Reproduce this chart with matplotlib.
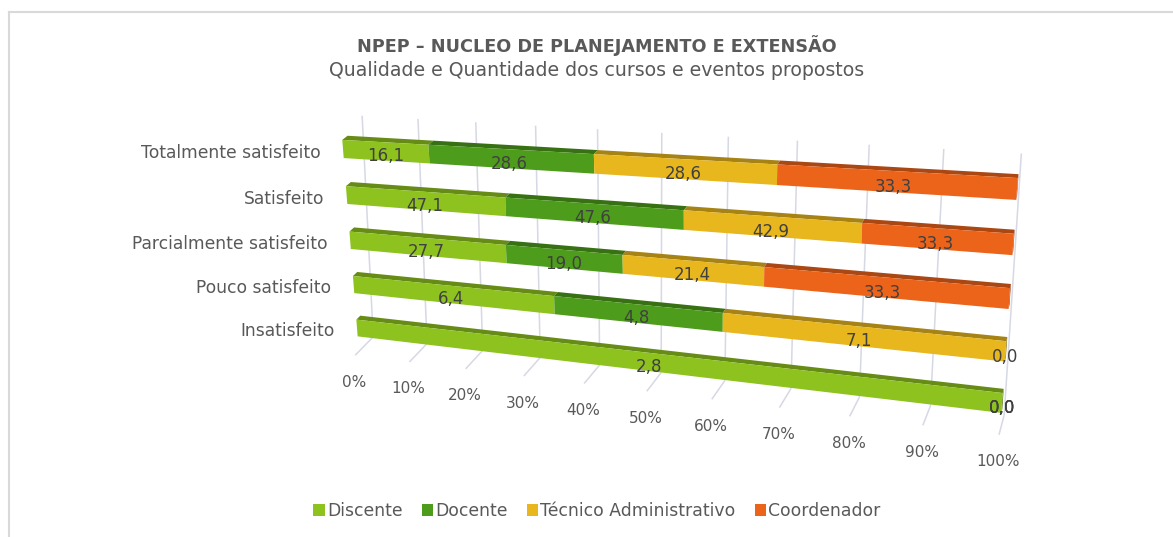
import numpy as np
import matplotlib
matplotlib.use("Agg")
import matplotlib.pyplot as plt
from matplotlib.transforms import Transform
from matplotlib.patches import Patch
from matplotlib.lines import Line2D
from matplotlib.colors import to_rgb

# ---------------- data ----------------
categories = ["Totalmente satisfeito", "Satisfeito", "Parcialmente satisfeito",
              "Pouco satisfeito", "Insatisfeito"]
series_names = ["Discente", "Docente", "Técnico Administrativo", "Coordenador"]
discente = [16.1, 47.1, 27.7, 6.4, 2.8]
docente = [28.6, 47.6, 19.0, 4.8, 0.0]
tecnico = [28.6, 42.9, 21.4, 7.1, 0.0]
coordenador = [33.3, 33.3, 33.3, 0.0, 0.0]
tick_values = [0, 10, 20, 30, 40, 50, 60, 70, 80, 90, 100]
tick_labels = ["0%", "10%", "20%", "30%", "40%", "50%", "60%", "70%", "80%", "90%", "100%"]
title = "NPEP – NUCLEO DE PLANEJAMENTO E EXTENSÃO"
subtitle = "Qualidade e Quantidade dos cursos e eventos propostos"

# ---------------- style ----------------
colors = ["#8DC21F", "#4E9C1C", "#E8B61D", "#EC631A"]
W, Hpx = 1173, 537
BAR_H = 0.39
DEPTH = 0.26
W_TOP = -0.37
W_FLOOR = 4.55
D_FRONT = -0.25

# perspective camera: front plane (bar faces) and back wall, given by 4 anchor corners
src = [(0, 0), (100, 0), (0, 4), (100, 4)]
front_dst = [(343, 149), (1017, 189), (357, 328), (1002, 403)]
back_dst = [(363, 133), (1020, 174), (372, 313), (1006, 387)]


def homography(s, d):
    A, b = [], []
    for (x, y), (X, Y) in zip(s, d):
        A.append([x, y, 1, 0, 0, 0, -X * x, -X * y]); b.append(X)
        A.append([0, 0, 0, x, y, 1, -Y * x, -Y * y]); b.append(Y)
    h = np.linalg.solve(np.array(A, float), np.array(b, float))
    return np.append(h, 1.0).reshape(3, 3)


H0 = homography(src, front_dst)
H1 = homography(src, back_dst)


def apply_h(H, u, w):
    p = H @ np.vstack([u, w, np.ones_like(u)])
    return (p[:2] / p[2]).T


class Persp(Transform):
    """(value, category, depth) -> pixel, two coordinates free, one fixed."""
    input_dims = 2
    output_dims = 2
    is_separable = False
    has_inverse = False

    def __init__(self, mode, fixed=0.0):
        super().__init__()
        self.mode = mode
        self.fixed = fixed

    def transform_non_affine(self, values):
        v = np.asarray(values, float).reshape(-1, 2)
        a, b = v[:, 0], v[:, 1]
        c = np.full_like(a, self.fixed)
        if self.mode == "uw":
            u, w, d = a, b, c
        elif self.mode == "ud":
            u, d, w = a, b, c
        else:
            d, w, u = a, b, c
        p0 = apply_h(H0, u, w)
        p1 = apply_h(H1, u, w)
        return p0 + d[:, None] * (p1 - p0)


def darker(c, f=0.72):
    r, g, b = to_rgb(c)
    return (r * f, g * f, b * f)


plt.rcParams["font.family"] = ["DejaVu Sans"]

fig = plt.figure(figsize=(W / 100, Hpx / 100), dpi=100)
ax = fig.add_axes([0, 0, 1, 1])
ax.set_autoscale_on(False)
ax.set_xlim(0, W)
ax.set_ylim(Hpx, 0)
ax.axis("off")

values = np.array([discente, docente, tecnico, coordenador], float)
shares = values / values.sum(axis=0) * 100
lefts = np.vstack([np.zeros(values.shape[1]), np.cumsum(shares, axis=0)[:-1]])
rows = np.arange(len(categories))

grid_c = "#D6D8E4"
# back wall gridlines
ax.vlines(tick_values, W_TOP, W_FLOOR, colors=grid_c, lw=1.1,
          transform=Persp("uw", 1.0) + ax.transData, zorder=1)
# floor gridlines
ax.vlines(tick_values, D_FRONT, 1.0, colors=grid_c, lw=1.1,
          transform=Persp("ud", W_FLOOR) + ax.transData, zorder=1)

# bars: top faces, right end faces, front faces
for r in rows:
    tr_top = Persp("ud", r - BAR_H / 2) + ax.transData
    for k in range(len(series_names)):
        ax.barh(DEPTH / 2, shares[k, r], left=lefts[k, r], height=DEPTH,
                color=darker(colors[k]), lw=0, transform=tr_top, zorder=2)
    last = max(k for k in range(len(series_names)) if shares[k, r] > 0)
    ax.barh(r, DEPTH, left=0, height=BAR_H, color=darker(colors[last], 0.6), lw=0,
            transform=Persp("dw", 100.0) + ax.transData, zorder=2)

front = Persp("uw", 0.0) + ax.transData
for k in range(len(series_names)):
    ax.barh(rows, shares[k], left=lefts[k], height=BAR_H, color=colors[k], lw=0,
            transform=front, zorder=3)

# data labels
for k in range(len(series_names)):
    for r in rows:
        ax.annotate(f"{values[k, r]:.1f}".replace(".", ","),
                    xy=(lefts[k, r] + shares[k, r] / 2, r + 0.1), xycoords=front,
                    ha="center", va="center", fontsize=12, color="#404040", zorder=5)

# category labels
for r, cat in enumerate(categories):
    ax.annotate(cat, xy=(0, r + 0.08), xycoords=front, xytext=(-23, 0),
                textcoords="offset pixels", ha="right", va="center",
                fontsize=12.3, color="#595959")

# value axis labels
floor_tr = Persp("ud", W_FLOOR) + ax.transData
for t, lab in zip(tick_values, tick_labels):
    ax.annotate(lab, xy=(t, D_FRONT), xycoords=floor_tr, xytext=(-1, -27),
                textcoords="offset pixels", ha="center", va="center",
                fontsize=11, color="#595959")

fig.text(0.509, 1 - 46 / Hpx, title, ha="center", va="center", fontsize=12.7,
         fontweight="bold", color="#595959")
fig.text(0.509, 1 - 71 / Hpx, subtitle, ha="center", va="center", fontsize=13.6,
         color="#595959")

handles = [Patch(facecolor=c, label=s) for c, s in zip(colors, series_names)]
fig.legend(handles=handles, loc="center", bbox_to_anchor=(0.509, 1 - 511 / Hpx), ncol=4,
           frameon=False, handlelength=0.65, handleheight=0.65, handletextpad=0.15,
           columnspacing=1.1, fontsize=12.4, labelcolor="#595959")

# chart-area border
fig.add_artist(Line2D([9 / W, 1.0], [1 - 12 / Hpx, 1 - 12 / Hpx], color="#D9D9D9",
                      lw=1.5, transform=fig.transFigure))
fig.add_artist(Line2D([9 / W, 9 / W], [1 - 12 / Hpx, 0], color="#D9D9D9",
                      lw=1.5, transform=fig.transFigure))

fig.savefig("out.png", dpi=100)
